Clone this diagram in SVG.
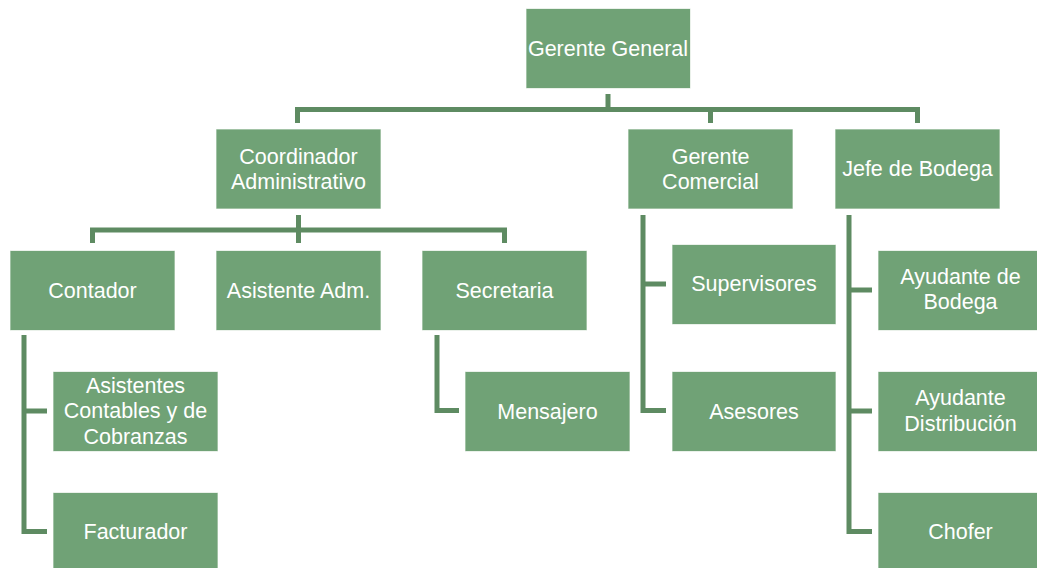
<svg xmlns="http://www.w3.org/2000/svg" width="1037" height="568" viewBox="0 0 1037 568">
<style>
.box{fill:#70A276;stroke:#ffffff;stroke-opacity:0.7;stroke-width:1}
.lbl{font-family:"Liberation Sans",Arial,sans-serif;font-size:21.5px;fill:#ffffff;text-anchor:middle}
.ln{fill:none;stroke:#5E8B62;stroke-width:5;stroke-linejoin:miter;stroke-linecap:butt}
</style>
<rect width="1037" height="568" fill="#ffffff"/>
<g id="connectors">
<path class="ln" d="M608 94 V109.5 M297.5 123 V109.5 H917.5 V123 M710.5 109.5 V123"/>
<path class="ln" d="M298.5 215 V243 M92.5 243 V230 H504.5 V243"/>
<path class="ln" d="M24 335 V531.5 H47 M24 411 H47"/>
<path class="ln" d="M437 335 V410.5 H459"/>
<path class="ln" d="M643 215 V410.5 H666 M643 284 H666"/>
<path class="ln" d="M849 215 V531.5 H872 M849 290 H872 M849 411 H872"/>
</g>
<g id="gerente-general"><rect class="box" x="526" y="8.5" width="164.5" height="80"/><text class="lbl" x="608" y="55.5">Gerente General</text></g>
<g id="coordinador"><rect class="box" x="216" y="129" width="165" height="80"/><text class="lbl" x="298.5" y="163.5">Coordinador</text><text class="lbl" x="298.5" y="189">Administrativo</text></g>
<g id="gerente-comercial"><rect class="box" x="628" y="129" width="165" height="80"/><text class="lbl" x="710.5" y="163.5">Gerente</text><text class="lbl" x="710.5" y="189">Comercial</text></g>
<g id="jefe-bodega"><rect class="box" x="835" y="129" width="165" height="80"/><text class="lbl" x="917.5" y="176">Jefe de Bodega</text></g>
<g id="contador"><rect class="box" x="10" y="250.5" width="165" height="80"/><text class="lbl" x="92.5" y="297.5">Contador</text></g>
<g id="asistente-adm"><rect class="box" x="216" y="250.5" width="165" height="80"/><text class="lbl" x="298.5" y="297.5">Asistente Adm.</text></g>
<g id="secretaria"><rect class="box" x="422" y="250.5" width="165" height="80"/><text class="lbl" x="504.5" y="297.5">Secretaria</text></g>
<g id="supervisores"><rect class="box" x="672" y="244.5" width="164" height="80"/><text class="lbl" x="754" y="291">Supervisores</text></g>
<g id="ayudante-bodega"><rect class="box" x="878" y="250.5" width="165" height="80"/><text class="lbl" x="960.5" y="283.5">Ayudante de</text><text class="lbl" x="960.5" y="309">Bodega</text></g>
<g id="asistentes-contables"><rect class="box" x="53" y="371.5" width="165" height="80"/><text class="lbl" x="135.5" y="392.5">Asistentes</text><text class="lbl" x="135.5" y="418">Contables y de</text><text class="lbl" x="135.5" y="443.5">Cobranzas</text></g>
<g id="mensajero"><rect class="box" x="465" y="371.5" width="165" height="80"/><text class="lbl" x="547.5" y="418.5">Mensajero</text></g>
<g id="asesores"><rect class="box" x="672" y="371.5" width="164" height="80"/><text class="lbl" x="754" y="418.5">Asesores</text></g>
<g id="ayudante-distribucion"><rect class="box" x="878" y="371.5" width="165" height="80"/><text class="lbl" x="960.5" y="405">Ayudante</text><text class="lbl" x="960.5" y="430.5">Distribución</text></g>
<g id="facturador"><rect class="box" x="53" y="492.5" width="165" height="80"/><text class="lbl" x="135.5" y="539">Facturador</text></g>
<g id="chofer"><rect class="box" x="878" y="492.5" width="165" height="80"/><text class="lbl" x="960.5" y="539">Chofer</text></g>
</svg>
